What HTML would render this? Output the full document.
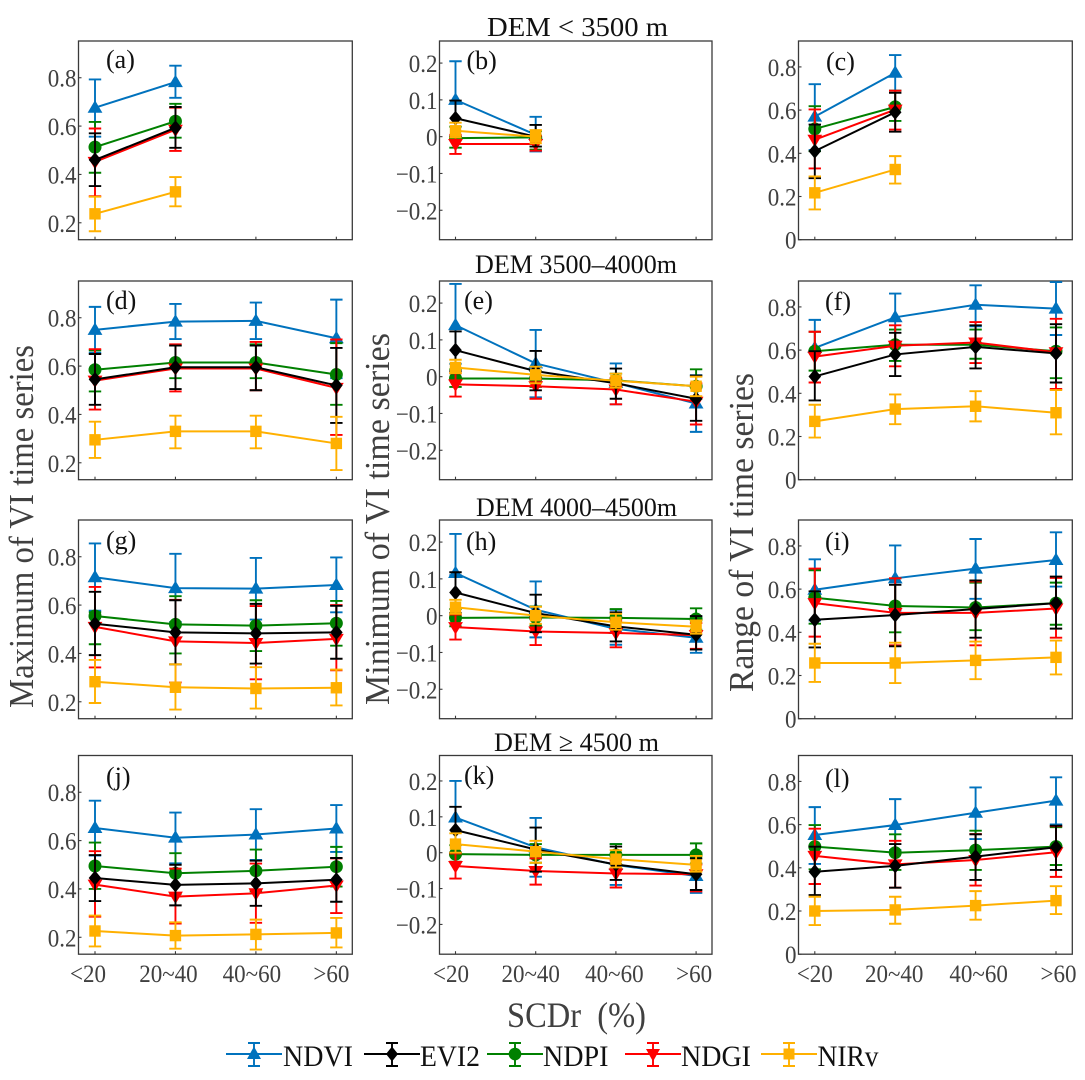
<!DOCTYPE html>
<html lang="en">
<head>
<meta charset="utf-8">
<title>VI time series by SCDr and DEM</title>
<style>
html,body{margin:0;padding:0;background:#fff;}
body{width:1085px;height:1080px;overflow:hidden;}
svg{display:block;font-family:"Liberation Serif",serif;}
</style>
</head>
<body>
<svg id="chart" width="1085" height="1080" viewBox="0 0 1085 1080" xmlns="http://www.w3.org/2000/svg">
<rect x="0" y="0" width="1085" height="1080" fill="#fff"/>
<text x="487" y="36" font-size="27" fill="#111" textLength="181" lengthAdjust="spacingAndGlyphs">DEM &lt; 3500 m</text>
<text x="475" y="273" font-size="26.5" fill="#111" textLength="202" lengthAdjust="spacingAndGlyphs">DEM 3500–4000m</text>
<text x="476" y="516" font-size="26.5" fill="#111" textLength="201" lengthAdjust="spacingAndGlyphs">DEM 4000–4500m</text>
<text x="494" y="751" font-size="26.5" fill="#111" textLength="165" lengthAdjust="spacingAndGlyphs">DEM ≥ 4500 m</text>
<text transform="translate(33,708) rotate(-90)" font-size="35" fill="#404040" textLength="363" lengthAdjust="spacingAndGlyphs">Maximum of VI time series</text>
<text transform="translate(389,705) rotate(-90)" font-size="35" fill="#404040" textLength="372" lengthAdjust="spacingAndGlyphs">Minimum of VI time series</text>
<text transform="translate(753,692) rotate(-90)" font-size="35" fill="#404040" textLength="319" lengthAdjust="spacingAndGlyphs">Range of VI time series</text>
<text x="507" y="1027" font-size="36" fill="#404040" textLength="139" lengthAdjust="spacingAndGlyphs" xml:space="preserve">SCDr  (%)</text>
<g font-size="30" fill="#111">
  <g stroke="#0072BD" stroke-width="1.9">
    <path fill="none" d="M226 1054H282M254 1043V1066M248 1043H260M248 1066H260"/>
    <polygon stroke="none" fill="#0072BD" points="254,1046.5 261,1059 247,1059"/>
    <text x="283" y="1066" stroke="none" fill="#111" textLength="70" lengthAdjust="spacingAndGlyphs">NDVI</text>
  </g>
  <g stroke="#000" stroke-width="1.9">
    <path fill="none" d="M364 1054H420M392 1043V1066M386 1043H398M386 1066H398"/>
    <polygon stroke="none" fill="#000" points="392,1046.5 398,1054 392,1061.5 386,1054"/>
    <text x="420" y="1066" stroke="none" fill="#111" textLength="60" lengthAdjust="spacingAndGlyphs">EVI2</text>
  </g>
  <g stroke="#008000" stroke-width="1.9">
    <path fill="none" d="M487 1054H543M515 1043V1066M509 1043H521M509 1066H521"/>
    <circle stroke="none" fill="#008000" cx="515" cy="1054" r="6.3"/>
    <text x="543" y="1066" stroke="none" fill="#111" textLength="65.5" lengthAdjust="spacingAndGlyphs">NDPI</text>
  </g>
  <g stroke="#FF0000" stroke-width="1.9">
    <path fill="none" d="M625 1054H681M653 1043V1066M647 1043H659M647 1066H659"/>
    <polygon stroke="none" fill="#FF0000" points="653,1061.5 660,1049 646,1049"/>
    <text x="681" y="1066" stroke="none" fill="#111" textLength="70" lengthAdjust="spacingAndGlyphs">NDGI</text>
  </g>
  <g stroke="#FFB000" stroke-width="1.9">
    <path fill="none" d="M761 1054H817M789 1043V1066M783 1043H795M783 1066H795"/>
    <rect stroke="none" fill="#FFB000" x="783.5" y="1048.5" width="11" height="11"/>
    <text x="817.5" y="1066" stroke="none" fill="#111" textLength="61" lengthAdjust="spacingAndGlyphs">NIRv</text>
  </g>
</g>
</svg>
<script>
// ---- categories and tick labels ----
const categories = ['<20', '20~40', '40~60', '>60'];
const maxTicks = [0.2, 0.4, 0.6, 0.8];
const minTicks = [-0.2, -0.1, 0, 0.1, 0.2];
const rangeTicks = [0, 0.2, 0.4, 0.6, 0.8];
const maxTickLabels = ['0.2', '0.4', '0.6', '0.8'];
const minTickLabels = ['\u22120.2', '\u22120.1', '0', '0.1', '0.2'];
const rangeTickLabels = ['0', '0.2', '0.4', '0.6', '0.8'];

// ---- panel (a) ----
const aNDVI=[.676,.782], aNDVIHi=[.793,.85], aNDVILo=[.556,.717];
const aEVI2=[.46,.593], aEVI2Hi=[.57,.679], aEVI2Lo=[.352,.51];
const aNDPI=[.513,.62], aNDPIHi=[.617,.692], aNDPILo=[.407,.552];
const aNDGI=[.452,.585], aNDGIHi=[.59,.676], aNDGILo=[.31,.497];
const aNIRv=[.237,.328], aNIRvHi=[.308,.389], aNIRvLo=[.165,.268];
// ---- panel (b) ----
const bNDVI=[.1,.005], bNDVIHi=[.205,.054], bNDVILo=[-.005,-.04];
const bEVI2=[.05,0], bEVI2Hi=[.098,.032], bEVI2Lo=[0,-.027];
const bNDPI=[-.004,-.002], bNDPIHi=[.027,.015], bNDPILo=[-.03,-.035];
const bNDGI=[-.02,-.02], bNDGIHi=[.005,.002], bNDGILo=[-.047,-.038];
const bNIRv=[.016,0], bNIRvHi=[.038,.018], bNIRvLo=[-.002,-.018];
// ---- panel (c) ----
const cNDVI=[.57,.773], cNDVIHi=[.72,.855], cNDVILo=[.415,.69];
const cEVI2=[.41,.59], cEVI2Hi=[.533,.68], cEVI2Lo=[.285,.5];
const cNDPI=[.513,.615], cNDPIHi=[.618,.69], cNDPILo=[.41,.55];
const cNDGI=[.463,.602], cNDGIHi=[.603,.69], cNDGILo=[.33,.51];
const cNIRv=[.217,.325], cNIRvHi=[.293,.387], cNIRvLo=[.14,.26];
// ---- panel (d) ----
const dNDVI=[.75,.784,.787,.715], dNDVIHi=[.845,.857,.863,.875], dNDVILo=[.655,.712,.712,.55];
const dEVI2=[.545,.595,.595,.52], dEVI2Hi=[.65,.685,.685,.675], dEVI2Lo=[.44,.505,.5,.365];
const dNDPI=[.585,.615,.615,.565], dNDPIHi=[.665,.685,.69,.695], dNDPILo=[.495,.55,.55,.44];
const dNDGI=[.54,.59,.59,.51], dNDGIHi=[.67,.69,.7,.71], dNDGILo=[.42,.495,.5,.315];
const dNIRv=[.295,.33,.33,.28], dNIRvHi=[.37,.395,.395,.39], dNIRvLo=[.22,.26,.26,.17];
// ---- panel (e) ----
const eNDVI=[.14,.036,-.017,-.073], eNDVIHi=[.252,.127,.036,.004], eNDVILo=[.035,-.056,-.075,-.15];
const eEVI2=[.072,.015,-.018,-.06], eEVI2Hi=[.123,.07,.022,.003], eEVI2Lo=[.015,-.037,-.06,-.12];
const eNDPI=[-.005,-.005,-.01,-.026], eNDPIHi=[.02,.015,.008,.02], eNDPILo=[-.028,-.028,-.026,-.06];
const eNDGI=[-.021,-.026,-.035,-.068], eNDGIHi=[.009,-.007,-.003,-.018], eNDGILo=[-.054,-.06,-.075,-.13];
const eNIRv=[.025,.005,-.011,-.026], eNIRvHi=[.046,.027,.008,0], eNIRvLo=[.01,-.018,-.03,-.053];
// ---- panel (f) ----
const fNDVI=[.61,.752,.81,.792], fNDVIHi=[.74,.862,.9,.915], fNDVILo=[.595,.64,.71,.67];
const fEVI2=[.478,.58,.615,.585], fEVI2Hi=[.595,.68,.715,.72], fEVI2Lo=[.367,.48,.515,.45];
const fNDPI=[.595,.625,.625,.595], fNDPIHi=[.685,.695,.695,.705], fNDPILo=[.505,.55,.56,.47];
const fNDGI=[.57,.62,.635,.59], fNDGIHi=[.685,.715,.73,.745], fNDGILo=[.45,.525,.54,.42];
const fNIRv=[.27,.327,.34,.31], fNIRvHi=[.347,.395,.41,.415], fNIRvLo=[.195,.257,.27,.21];
// ---- panel (g) ----
const gNDVI=[.715,.67,.668,.683], gNDVIHi=[.855,.812,.795,.797], gNDVILo=[.577,.53,.54,.57];
const gEVI2=[.523,.487,.483,.487], gEVI2Hi=[.655,.62,.605,.597], gEVI2Lo=[.393,.355,.358,.378];
const gNDPI=[.555,.52,.515,.525], gNDPIHi=[.57,.637,.62,.617], gNDPILo=[.438,.4,.41,.432];
const gNDGI=[.51,.45,.443,.46], gNDGIHi=[.675,.622,.596,.6], gNDGILo=[.342,.28,.293,.33];
const gNIRv=[.283,.26,.255,.258], gNIRvHi=[.373,.355,.343,.333], gNIRvLo=[.195,.168,.172,.185];
// ---- panel (h) ----
const hNDVI=[.116,.016,-.036,-.06], hNDVIHi=[.222,.093,.016,-.002], hNDVILo=[.11,-.059,-.079,-.101];
const hEVI2=[.063,.007,-.029,-.052], hEVI2Hi=[.118,.057,.009,-.001], hEVI2Lo=[.007,-.045,-.07,-.092];
const hNDPI=[-.006,-.005,-.006,-.009], hNDPIHi=[.018,.025,.018,.02], hNDPILo=[-.029,-.027,-.031,-.038];
const hNDGI=[-.031,-.043,-.047,-.053], hNDGIHi=[.003,-.006,-.014,-.02], hNDGILo=[-.065,-.08,-.086,-.09];
const hNIRv=[.023,0,-.018,-.03], hNIRvHi=[.043,.024,.005,-.013], hNIRvLo=[.005,-.022,-.038,-.049];
// ---- panel (i) ----
const iNDVI=[.597,.65,.695,.735], iNDVIHi=[.738,.802,.832,.863], iNDVILo=[.455,.5,.555,.612];
const iEVI2=[.458,.48,.508,.535], iEVI2Hi=[.59,.62,.64,.658], iEVI2Lo=[.33,.335,.375,.417];
const iNDPI=[.56,.522,.515,.535], iNDPIHi=[.687,.65,.63,.63], iNDPILo=[.44,.4,.41,.435];
const iNDGI=[.535,.49,.49,.51], iNDGIHi=[.695,.65,.635,.652], iNDGILo=[.38,.34,.34,.375];
const iNIRv=[.258,.258,.27,.284], iNIRvHi=[.347,.352,.357,.362], iNIRvLo=[.17,.165,.183,.205];
// ---- panel (j) ----
const jNDVI=[.652,.612,.625,.65], jNDVIHi=[.765,.716,.73,.747], jNDVILo=[.538,.506,.52,.553];
const jEVI2=[.445,.417,.423,.438], jEVI2Hi=[.54,.5,.517,.528], jEVI2Lo=[.35,.332,.33,.347];
const jNDPI=[.495,.465,.475,.492], jNDPIHi=[.592,.548,.563,.574], jNDPILo=[.4,.38,.39,.41];
const jNDGI=[.418,.368,.382,.414], jNDGIHi=[.556,.484,.505,.526], jNDGILo=[.285,.257,.26,.3];
const jNIRv=[.226,.207,.212,.218], jNIRvHi=[.29,.262,.273,.28], jNIRvLo=[.162,.153,.149,.158];
// ---- panel (k) ----
const kNDVI=[.098,.015,-.034,-.065], kNDVIHi=[.2,.097,.024,0], kNDVILo=[-.002,-.067,-.09,-.112];
const kEVI2=[.063,.009,-.033,-.06], kEVI2Hi=[.128,.07,.017,-.016], kEVI2Lo=[0,-.053,-.076,-.104];
const kNDPI=[-.004,-.006,-.006,-.006], kNDPIHi=[.021,.024,.024,.026], kNDPILo=[-.025,-.028,-.032,-.03];
const kNDGI=[-.037,-.051,-.058,-.06], kNDGIHi=[-.002,-.016,-.022,-.033], kNDGILo=[-.072,-.089,-.097,-.108];
const kNIRv=[.024,.003,-.018,-.034], kNIRvHi=[.054,.033,.007,-.009], kNIRvLo=[0,-.028,-.041,-.053];
// ---- panel (l) ----
const lNDVI=[.552,.598,.655,.711], lNDVIHi=[.681,.718,.772,.819], lNDVILo=[.418,.482,.533,.601];
const lEVI2=[.382,.409,.452,.495], lEVI2Hi=[.498,.51,.555,.595], lEVI2Lo=[.274,.308,.344,.39];
const lNDPI=[.498,.47,.482,.498], lNDPIHi=[.598,.555,.572,.588], lNDPILo=[.393,.39,.39,.413];
const lNDGI=[.455,.416,.436,.472], lNDGIHi=[.581,.525,.556,.593], lNDGILo=[.325,.308,.318,.358];
const lNIRv=[.2,.205,.225,.248], lNIRvHi=[.266,.266,.292,.315], lNIRvLo=[.135,.141,.16,.186];

// ---- layout ----
const SVGNS = 'http://www.w3.org/2000/svg';
const chart = document.getElementById('chart');
const rowTop = [41, 281, 520, 755.5];
const panelHeight = 198.7;
const colLeft = [78.5, 439.5, 798.5];
const colRight = [352.3, 712, 1072.3];
const colFirstTick = [95, 455.5, 814.8];
const colStep = [80.45, 80.2, 80.4];
const colDomain = [[0.13, 0.952], [-0.28, 0.26], [0, 0.92]];
const panelKDomain = [-0.283, 0.271];
const colTicks = [maxTicks, minTicks, rangeTicks];
const colTickLabels = [maxTickLabels, minTickLabels, rangeTickLabels];
const categoryLabelShift = [[-7, -7, -4, -5], [-4.5, -5, -1.5, -2], [0, -1, 3, 2.5]];
const seriesColor = {NDVI: '#0072BD', NDPI: '#008000', NDGI: '#FF0000', EVI2: '#000000', NIRv: '#FFB000'};
const seriesOrder = ['NDVI', 'NDPI', 'NDGI', 'EVI2', 'NIRv'];
const letterPos = [
  [106, 68], [466.5, 69], [826, 70],
  [106, 309], [464, 309], [825, 310],
  [106, 549], [466, 550], [825, 550],
  [106, 785], [464, 784], [825, 787]
];
const panelIds = ['a', 'b', 'c', 'd', 'e', 'f', 'g', 'h', 'i', 'j', 'k', 'l'];
const panelSeries = [
  {NDVI:[aNDVI,aNDVIHi,aNDVILo],EVI2:[aEVI2,aEVI2Hi,aEVI2Lo],NDPI:[aNDPI,aNDPIHi,aNDPILo],NDGI:[aNDGI,aNDGIHi,aNDGILo],NIRv:[aNIRv,aNIRvHi,aNIRvLo]},
  {NDVI:[bNDVI,bNDVIHi,bNDVILo],EVI2:[bEVI2,bEVI2Hi,bEVI2Lo],NDPI:[bNDPI,bNDPIHi,bNDPILo],NDGI:[bNDGI,bNDGIHi,bNDGILo],NIRv:[bNIRv,bNIRvHi,bNIRvLo]},
  {NDVI:[cNDVI,cNDVIHi,cNDVILo],EVI2:[cEVI2,cEVI2Hi,cEVI2Lo],NDPI:[cNDPI,cNDPIHi,cNDPILo],NDGI:[cNDGI,cNDGIHi,cNDGILo],NIRv:[cNIRv,cNIRvHi,cNIRvLo]},
  {NDVI:[dNDVI,dNDVIHi,dNDVILo],EVI2:[dEVI2,dEVI2Hi,dEVI2Lo],NDPI:[dNDPI,dNDPIHi,dNDPILo],NDGI:[dNDGI,dNDGIHi,dNDGILo],NIRv:[dNIRv,dNIRvHi,dNIRvLo]},
  {NDVI:[eNDVI,eNDVIHi,eNDVILo],EVI2:[eEVI2,eEVI2Hi,eEVI2Lo],NDPI:[eNDPI,eNDPIHi,eNDPILo],NDGI:[eNDGI,eNDGIHi,eNDGILo],NIRv:[eNIRv,eNIRvHi,eNIRvLo]},
  {NDVI:[fNDVI,fNDVIHi,fNDVILo],EVI2:[fEVI2,fEVI2Hi,fEVI2Lo],NDPI:[fNDPI,fNDPIHi,fNDPILo],NDGI:[fNDGI,fNDGIHi,fNDGILo],NIRv:[fNIRv,fNIRvHi,fNIRvLo]},
  {NDVI:[gNDVI,gNDVIHi,gNDVILo],EVI2:[gEVI2,gEVI2Hi,gEVI2Lo],NDPI:[gNDPI,gNDPIHi,gNDPILo],NDGI:[gNDGI,gNDGIHi,gNDGILo],NIRv:[gNIRv,gNIRvHi,gNIRvLo]},
  {NDVI:[hNDVI,hNDVIHi,hNDVILo],EVI2:[hEVI2,hEVI2Hi,hEVI2Lo],NDPI:[hNDPI,hNDPIHi,hNDPILo],NDGI:[hNDGI,hNDGIHi,hNDGILo],NIRv:[hNIRv,hNIRvHi,hNIRvLo]},
  {NDVI:[iNDVI,iNDVIHi,iNDVILo],EVI2:[iEVI2,iEVI2Hi,iEVI2Lo],NDPI:[iNDPI,iNDPIHi,iNDPILo],NDGI:[iNDGI,iNDGIHi,iNDGILo],NIRv:[iNIRv,iNIRvHi,iNIRvLo]},
  {NDVI:[jNDVI,jNDVIHi,jNDVILo],EVI2:[jEVI2,jEVI2Hi,jEVI2Lo],NDPI:[jNDPI,jNDPIHi,jNDPILo],NDGI:[jNDGI,jNDGIHi,jNDGILo],NIRv:[jNIRv,jNIRvHi,jNIRvLo]},
  {NDVI:[kNDVI,kNDVIHi,kNDVILo],EVI2:[kEVI2,kEVI2Hi,kEVI2Lo],NDPI:[kNDPI,kNDPIHi,kNDPILo],NDGI:[kNDGI,kNDGIHi,kNDGILo],NIRv:[kNIRv,kNIRvHi,kNIRvLo]},
  {NDVI:[lNDVI,lNDVIHi,lNDVILo],EVI2:[lEVI2,lEVI2Hi,lEVI2Lo],NDPI:[lNDPI,lNDPIHi,lNDPILo],NDGI:[lNDGI,lNDGIHi,lNDGILo],NIRv:[lNIRv,lNIRvHi,lNIRvLo]}
];

// ---- axis functions ----
function xScale(col, i) {
  return colFirstTick[col] + i * colStep[col];
}
function yScale(row, col, v) {
  const d = (row === 3 && col === 1) ? panelKDomain : colDomain[col];
  return rowTop[row] + panelHeight * (1 - (v - d[0]) / (d[1] - d[0]));
}
function make(tag, parent, attrs, text) {
  const el = document.createElementNS(SVGNS, tag);
  Object.keys(attrs).forEach(function (k) { el.setAttribute(k, attrs[k]); });
  if (text !== undefined) el.textContent = text;
  parent.appendChild(el);
  return el;
}
function drawMarker(parent, s, x, y) {
  const c = seriesColor[s];
  if (s === 'NDVI') {
    return make('polygon', parent, {fill: c, points: [x, y - 7.5, x + 7.4, y + 5, x - 7.4, y + 5].join(' ')});
  }
  if (s === 'NDGI') {
    return make('polygon', parent, {fill: c, points: [x, y + 7.5, x + 7.4, y - 5, x - 7.4, y - 5].join(' ')});
  }
  if (s === 'EVI2') {
    return make('polygon', parent, {fill: c, points: [x, y - 7.5, x + 6.3, y, x, y + 7.5, x - 6.3, y].join(' ')});
  }
  if (s === 'NDPI') {
    return make('circle', parent, {fill: c, cx: x, cy: y, r: 6.5});
  }
  return make('rect', parent, {fill: c, x: x - 5.7, y: y - 5.7, width: 11.4, height: 11.4});
}

// ---- draw panels ----
panelIds.forEach(function (id, p) {
  const row = Math.floor(p / 3);
  const col = p % 3;
  const left = colLeft[col];
  const right = colRight[col];
  const top = rowTop[row];
  const bottom = top + panelHeight;

  const g = make('g', chart, {});
  
  

  const frame = make('rect', g, {x: left, y: top, width: right - left, height: panelHeight, fill: '#fff', stroke: '#3a3a3a', 'stroke-width': 1.3});
  
  

  // y ticks
  colTicks[col].forEach(function (t, k) {
    const y = yScale(row, col, t);
    const tick = make('line', g, {x1: left, x2: left + 3, y1: y, y2: y, stroke: '#3a3a3a', 'stroke-width': 1.1});
    
    
    const label = make('text', g, {transform: 'translate(' + (left - 2) + ',' + (y + 9) + ') scale(0.92,1)', 'font-size': 25, fill: '#404040', 'text-anchor': 'end'}, colTickLabels[col][k]);
    
    
  });

  // x ticks
  categories.forEach(function (cat, i) {
    const x = xScale(col, i);
    const tick = make('line', g, {x1: x, x2: x, y1: bottom, y2: bottom - 3, stroke: '#3a3a3a', 'stroke-width': 1.1});
    
    
    if (row === 3) {
      const label = make('text', g, {transform: 'translate(' + (x + categoryLabelShift[col][i]) + ',982) scale(0.92,1)', 'font-size': 25, fill: '#404040', 'text-anchor': 'middle'}, cat);
      
      
    }
  });

  // series: error bars, connecting line, then markers
  seriesOrder.forEach(function (s) {
    const vals = panelSeries[p][s][0];
    const his = panelSeries[p][s][1];
    const los = panelSeries[p][s][2];
    const color = seriesColor[s];
    const sg = make('g', g, {});
    
    

    vals.forEach(function (v, i) {
      const x = xScale(col, i);
      const yHi = yScale(row, col, his[i]);
      const yLo = yScale(row, col, los[i]);
      const d = 'M' + x + ' ' + yHi + 'V' + yLo +
                'M' + (x - 6.2) + ' ' + yHi + 'H' + (x + 6.2) +
                'M' + (x - 6.2) + ' ' + yLo + 'H' + (x + 6.2);
      const err = make('path', sg, {d: d, fill: 'none', stroke: color, 'stroke-width': 1.9});
      
      
    });

    const pts = vals.map(function (v, i) { return xScale(col, i) + ',' + yScale(row, col, v); }).join(' ');
    const line = make('polyline', sg, {points: pts, fill: 'none', stroke: color, 'stroke-width': 2});
    
    

    vals.forEach(function (v, i) {
      const mark = drawMarker(sg, s, xScale(col, i), yScale(row, col, v));
      
      
    });
  });

  const letter = make('text', g, {x: letterPos[p][0], y: letterPos[p][1], 'font-size': 26, fill: '#111'}, '(' + id + ')');
  
  
});
</script>
</body>
</html>
